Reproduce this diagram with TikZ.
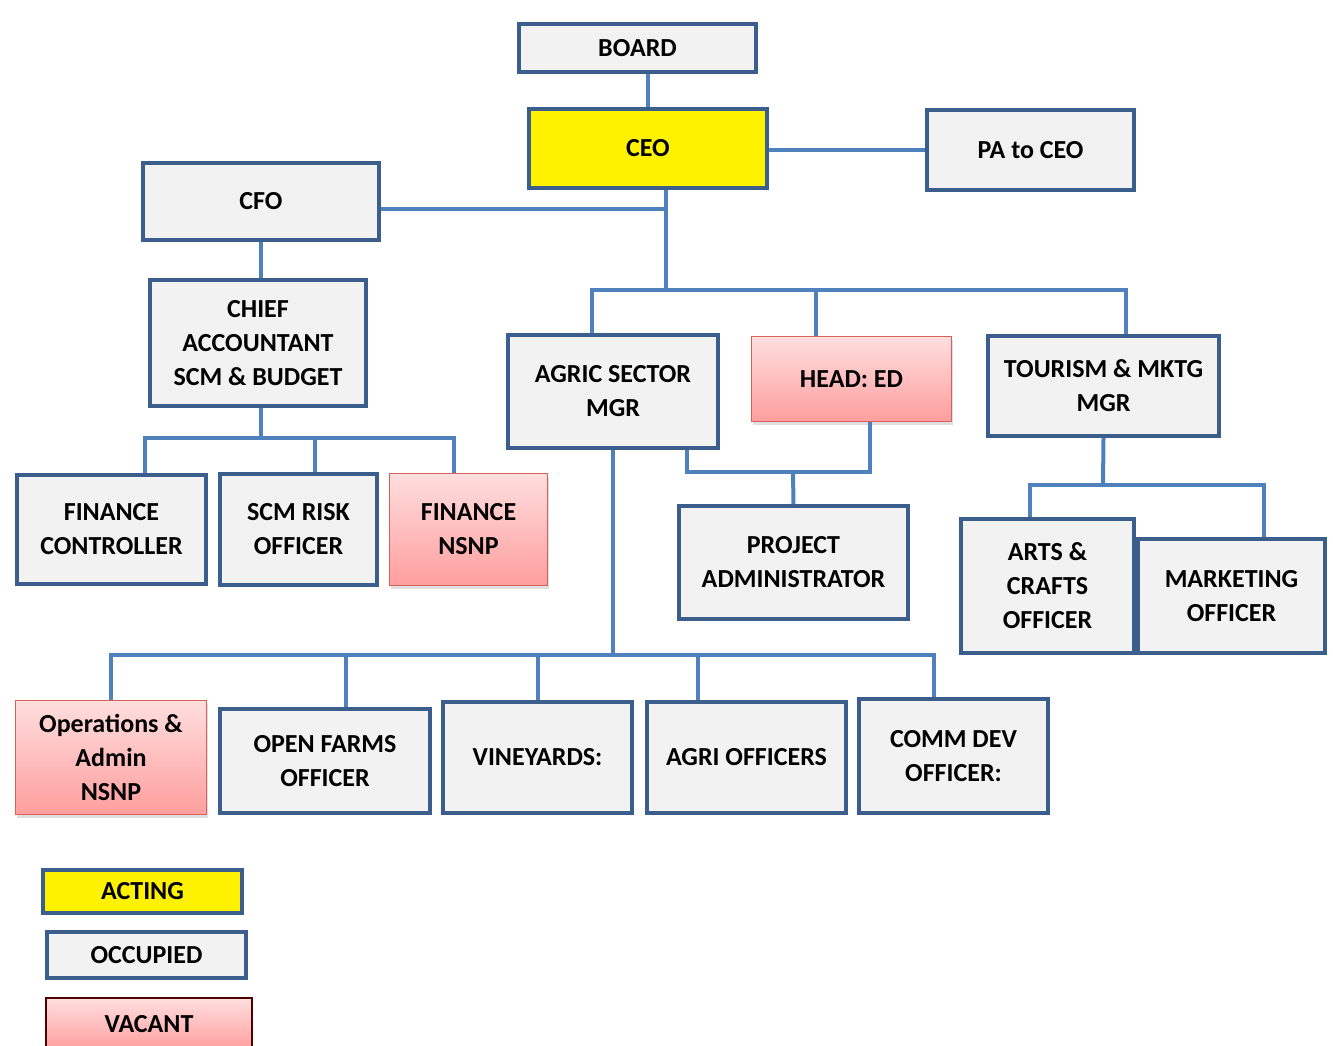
\documentclass[tikz,border=0pt]{standalone}
\usepackage{fontspec}
\setmainfont{Carlito}
\usetikzlibrary{shadows}
\definecolor{postblue}{HTML}{3B5E8C}
\definecolor{linkblue}{HTML}{4F81BD}
\definecolor{postgray}{HTML}{F2F2F2}
\definecolor{vacanttop}{HTML}{FFDEDE}
\definecolor{vacantbottom}{HTML}{FF9E9E}
\definecolor{vacantedge}{HTML}{D9605A}
\tikzset{
    post/.style={rectangle, draw=postblue, line width=4pt, fill=postgray,
        inner sep=0pt, align=center, font=\fontsize{26}{34}\selectfont\bfseries},
    acting/.style={post, fill=yellow},
    vacant/.style={post, draw=vacantedge, line width=1.2pt, top color=vacanttop,
        bottom color=vacantbottom, drop shadow={shadow xshift=1pt, shadow yshift=-3pt, opacity=.25}},
    link/.style={draw=linkblue, line width=4pt}
}
\begin{document}
\begin{tikzpicture}[x=1pt, y=-1pt]
        \useasboundingbox[fill=white] (0,0) rectangle (1333,1046);

        % --- 上層 ---
        \node[post, minimum width=237, minimum height=48] (board) at (637.5,48) {BOARD};
        \node[acting, minimum width=238, minimum height=79] (ceo) at (648,148.5) {CEO};
        \node[post, minimum width=207, minimum height=80] (pa) at (1030.5,150) {PA to CEO};
        \node[post, minimum width=236, minimum height=77] (cfo) at (261,201.5) {CFO};
        \node[post, minimum width=216, minimum height=126] (chief) at (258,343) {CHIEF\\ACCOUNTANT\\SCM \& BUDGET};

        % --- 財務 ---
        \node[post, minimum width=189, minimum height=109] (fincon) at (111.5,529.5) {FINANCE\\CONTROLLER};
        \node[post, minimum width=157, minimum height=111] (scm) at (298.5,529.5) {SCM RISK\\OFFICER};
        \node[vacant, minimum width=158, minimum height=112] (finnsnp) at (468.5,529.5) {FINANCE\\NSNP};

        % --- 部門長 ---
        \node[post, minimum width=210, minimum height=113] (agric) at (613,391.5) {AGRIC SECTOR\\MGR};
        \node[vacant, minimum width=200, minimum height=85] (headed) at (851.5,379) {HEAD: ED};
        \node[post, minimum width=231, minimum height=100] (tourism) at (1103.5,386) {TOURISM \& MKTG\\MGR};
        \node[post, minimum width=229, minimum height=113] (project) at (793.5,562.5) {PROJECT\\ADMINISTRATOR};
        \node[post, minimum width=173, minimum height=134] (arts) at (1047.5,586) {ARTS \&\\CRAFTS\\OFFICER};
        \node[post, minimum width=187, minimum height=114] (marketing) at (1231.5,596) {MARKETING\\OFFICER};

        % --- 農業 ---
        \node[vacant, minimum width=191, minimum height=114] (ops) at (111,757.5) {Operations \&\\Admin\\NSNP};
        \node[post, minimum width=210, minimum height=104] (openfarms) at (325,761) {OPEN FARMS\\OFFICER};
        \node[post, minimum width=189, minimum height=111] (vineyards) at (537.5,757.5) {VINEYARDS:};
        \node[post, minimum width=199, minimum height=111] (agrioff) at (746.5,757.5) {AGRI OFFICERS};
        \node[post, minimum width=189, minimum height=114] (commdev) at (953.5,756) {COMM DEV\\OFFICER:};

        % --- 凡例 ---
        \node[acting, minimum width=199, minimum height=43] (legacting) at (142.5,891.5) {ACTING};
        \node[post, minimum width=199, minimum height=46] (legoccupied) at (146.5,955) {OCCUPIED};
        \node[vacant, draw=black!70!red, line width=2pt, minimum width=206, minimum height=52] (legvacant) at (149,1024) {VACANT};

        % --- 分岐点 ---
        \coordinate (hub) at (666,290);
        \coordinate (chiefBus) at (261,438);
        \coordinate (projBus) at (793,472);
        \coordinate (farmBus) at (613,655);
        \coordinate (tourBus) at (1103,485);

        % --- 接続線 ---
        \draw[link] (ceo.north) -- (ceo.north |- board.south);
        \draw[link] (pa.west) -- (pa.west -| ceo.east);
        \draw[link] ([xshift=18pt]ceo.south) -- (hub);
        \draw[link] ([yshift=-7pt]cfo.east) -- ([yshift=-7pt]cfo.east -| hub);
        \draw[link] ([xshift=-21pt]agric.north) |- (hub) -| ([xshift=22pt]tourism.north);
        \draw[link] ([xshift=-36pt]headed.north) -- ([xshift=-36pt]headed.north |- hub);

        % 財務
        \draw[link] (cfo.south) -- (cfo.south |- chief.north);
        \draw[link] ([xshift=3pt]chief.south) -- (chiefBus);
        \draw[link] ([xshift=33pt]fincon.north) |- (chiefBus) -| ([xshift=-15pt]finnsnp.north);
        \draw[link] ([xshift=16pt]scm.north) -- ([xshift=16pt]scm.north |- chiefBus);

        % プロジェクト
        \draw[link] ([xshift=74pt]agric.south) |- (projBus) -| ([xshift=18pt]headed.south);
        \draw[link] (project.north) -- (projBus);

        % 農業
        \draw[link] (agric.south) -- (farmBus);
        \draw[link] (ops.north) |- (farmBus) -| ([xshift=-20pt]commdev.north);
        \foreach \n/\dx in {openfarms/21, vineyards/0, agrioff/-49} {
            \draw[link] ([xshift=\dx pt]\n.north) -- ([xshift=\dx pt]\n.north |- farmBus);
        }

        % 観光
        \draw[link] (tourism.south) -- (tourBus);
        \draw[link] ([xshift=-18pt]arts.north) |- (tourBus) -| ([xshift=32pt]marketing.north);

    \end{tikzpicture}
\end{document}
